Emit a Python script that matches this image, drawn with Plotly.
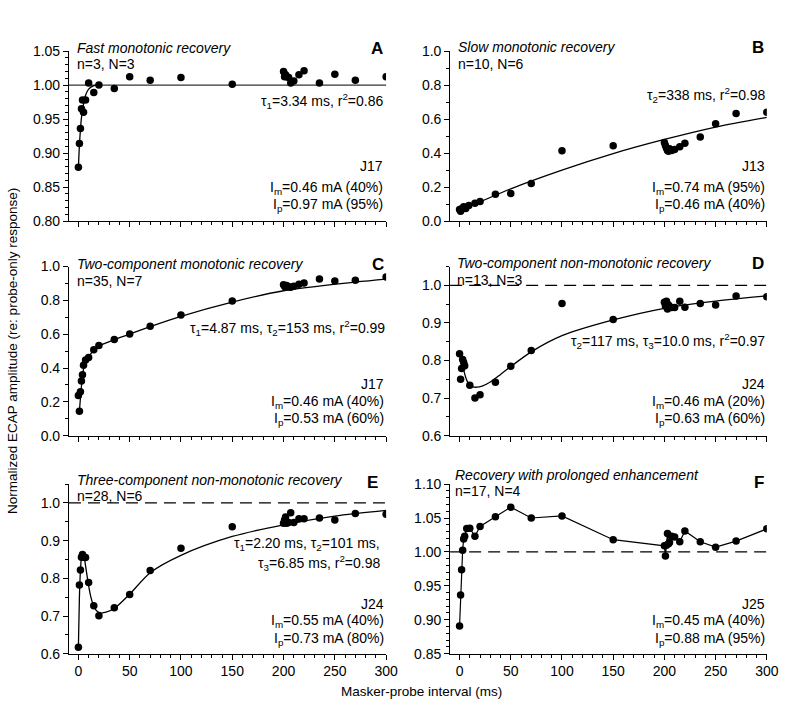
import plotly.graph_objects as go

W, H = 800, 714
FONT = "Liberation Sans, Arial, sans-serif"

# ---------------- data ----------------
# Panel A: fast monotonic recovery
A_x = [0, 1, 2, 3, 4, 5, 7, 10, 15, 20, 35, 50, 70, 100, 150,
       200, 201, 202, 203, 205, 207, 210, 215, 220, 235, 250, 270, 300]
A_y = [0.879, 0.914, 0.936, 0.965, 0.978, 0.960, 0.978, 1.003, 0.989, 1.000, 0.995, 1.012, 1.007, 1.011, 1.001,
       1.020, 1.012, 1.015, 1.012, 1.011, 1.003, 1.006, 1.015, 1.021, 1.003, 1.016, 1.007, 1.012]
A_fit_x = [0, 1, 2, 3, 5, 7, 10, 15, 20]
A_fit_y = [0.877, 0.912, 0.934, 0.952, 0.972, 0.985, 0.994, 0.999, 1.0]

# Panel B: slow monotonic recovery
B_x = [0, 1, 2, 4, 6, 9, 15, 20, 35, 50, 70, 100, 150,
       200, 201, 202, 203, 204, 205, 207, 210, 215, 220, 235, 250, 270, 300]
B_y = [0.068, 0.058, 0.072, 0.085, 0.074, 0.092, 0.105, 0.116, 0.158, 0.163, 0.221, 0.413, 0.443,
       0.462, 0.445, 0.430, 0.415, 0.410, 0.425, 0.415, 0.421, 0.437, 0.458, 0.494, 0.572, 0.633, 0.640]
B_fit_x = [0, 50, 100, 150, 200, 250, 300]
B_fit_y = [0.060, 0.190, 0.300, 0.397, 0.480, 0.553, 0.610]

# Panel C: two-component monotonic recovery
C_x = [0, 1, 2, 3, 4, 5, 7, 10, 15, 20, 35, 50, 70, 100, 150,
       200, 201, 202, 203, 205, 207, 210, 215, 220, 235, 250, 270, 300]
C_y = [0.238, 0.145, 0.260, 0.323, 0.360, 0.416, 0.448, 0.462, 0.508, 0.534, 0.569, 0.602, 0.647, 0.714, 0.797,
       0.892, 0.884, 0.878, 0.888, 0.880, 0.878, 0.884, 0.895, 0.903, 0.927, 0.915, 0.919, 0.938]
C_fit_x = [1, 3, 4.6, 7, 10, 15, 20, 35, 50, 70, 100, 150, 200, 250, 300]
C_fit_y = [0.145, 0.294, 0.381, 0.440, 0.468, 0.505, 0.530, 0.568, 0.600, 0.645, 0.706, 0.790, 0.857, 0.896, 0.926]

# Panel D: two-component non-monotonic recovery
D_x = [0, 1, 2, 3, 4, 5, 10, 15, 20, 35, 50, 70, 100, 150,
       200, 201, 202, 203, 204, 205, 207, 210, 215, 220, 235, 250, 270, 300]
D_y = [0.818, 0.750, 0.779, 0.803, 0.795, 0.786, 0.734, 0.700, 0.709, 0.742, 0.785, 0.827, 0.952, 0.909,
       0.955, 0.945, 0.958, 0.937, 0.948, 0.944, 0.941, 0.941, 0.958, 0.942, 0.952, 0.948, 0.972, 0.970]
D_fit_x = [2, 4, 6, 8, 10, 13, 17, 22, 30, 40, 50, 70, 100, 150, 200, 250, 300]
D_fit_y = [0.800, 0.775, 0.755, 0.742, 0.735, 0.730, 0.729, 0.732, 0.743, 0.763, 0.784, 0.823, 0.866, 0.908,
           0.939, 0.958, 0.972]

# Panel E: three-component non-monotonic recovery
E_x = [0, 1, 2, 3, 4, 5, 7, 10, 15, 20, 35, 50, 70, 100, 150,
       200, 201, 202, 203, 205, 207, 210, 215, 220, 235, 250, 270, 300]
E_y = [0.617, 0.782, 0.822, 0.856, 0.863, 0.856, 0.855, 0.789, 0.727, 0.701, 0.722, 0.757, 0.821, 0.880, 0.937,
       0.946, 0.955, 0.963, 0.946, 0.948, 0.974, 0.948, 0.958, 0.958, 0.960, 0.955, 0.972, 0.970]
E_fit_x = [0, 1, 2, 3, 4, 5, 6, 8, 10, 12, 15, 18, 22, 27, 35, 50, 70, 100, 150, 200, 250, 300]
E_fit_y = [0.617, 0.750, 0.820, 0.855, 0.865, 0.862, 0.850, 0.815, 0.780, 0.752, 0.726, 0.713, 0.708, 0.710,
           0.720, 0.758, 0.815, 0.861, 0.911, 0.942, 0.965, 0.980]

# Panel F: recovery with prolonged enhancement
F_x = [0, 1, 2, 3, 4, 5, 7, 10, 15, 20, 35, 50, 70, 100, 150,
       200, 201, 202, 203, 204, 205, 207, 210, 215, 220, 235, 250, 270, 300]
F_y = [0.891, 0.9365, 0.9736, 1.0024, 1.019, 1.023, 1.0345, 1.035, 1.023, 1.0375, 1.052, 1.066, 1.050, 1.053, 1.018,
       1.009, 0.994, 1.010, 1.027, 1.012, 1.014, 1.023, 1.022, 1.015, 1.031, 1.015, 1.007, 1.016, 1.034]

X_RANGE = [-9.2, 300]
Y_RANGES = {1: [0.80, 1.05], 2: [0.0, 1.0], 3: [0.0, 1.0], 4: [0.6, 1.05], 5: [0.6, 1.05], 6: [0.85, 1.10]}
Y_DTICK = {1: 0.05, 2: 0.2, 3: 0.2, 4: 0.1, 5: 0.1, 6: 0.05}
Y_MINOR = {1: 0.01, 2: 0.1, 3: 0.1, 4: 0.05, 5: 0.05, 6: 0.01}
Y_FMT = {1: ".2f", 2: ".1f", 3: ".1f", 4: ".1f", 5: ".1f", 6: ".2f"}

# ---------------- layout geometry (pixels) ----------------
COLS = [(70, 392), (457, 778.5)]
ROWS = [(44, 218), (264.5, 437.5), (487, 660.5)]

fig = go.Figure()

series = {
    1: (A_x, A_y, A_fit_x, A_fit_y),
    2: (B_x, B_y, B_fit_x, B_fit_y),
    3: (C_x, C_y, C_fit_x, C_fit_y),
    4: (D_x, D_y, D_fit_x, D_fit_y),
    5: (E_x, E_y, E_fit_x, E_fit_y),
    6: (F_x, F_y, None, None),
}

for i in range(1, 7):
    xs, ys, fx, fy = series[i]
    xa = "x" if i == 1 else f"x{i}"
    ya = "y" if i == 1 else f"y{i}"
    if fx is not None:
        fig.add_trace(go.Scatter(x=fx, y=fy, mode="lines", xaxis=xa, yaxis=ya,
                                 line=dict(color="black", width=1.3, shape="spline", smoothing=0.8),
                                 hoverinfo="skip"))
        fig.add_trace(go.Scatter(x=xs, y=ys, mode="markers", xaxis=xa, yaxis=ya,
                                 marker=dict(color="black", size=7.5)))
    else:
        fig.add_trace(go.Scatter(x=xs, y=ys, mode="lines+markers", xaxis=xa, yaxis=ya,
                                 line=dict(color="black", width=1.2),
                                 marker=dict(color="black", size=7.5)))

layout = dict(width=W, height=H, margin=dict(l=0, r=0, t=0, b=0),
              paper_bgcolor="white", plot_bgcolor="white", showlegend=False,
              font=dict(family=FONT, color="black", size=14))

for i in range(1, 7):
    col = (i - 1) % 2
    row = (i - 1) // 2
    x0, x1 = COLS[col]
    y0, y1 = ROWS[row]
    xk = "xaxis" if i == 1 else f"xaxis{i}"
    yk = "yaxis" if i == 1 else f"yaxis{i}"
    layout[xk] = dict(domain=[x0 / W, x1 / W], range=X_RANGE, anchor="y" if i == 1 else f"y{i}",
                      showline=True, linecolor="black", linewidth=1, ticks="outside", ticklen=5,
                      tickcolor="black", tickwidth=1, tick0=0, dtick=50, showgrid=False, zeroline=False,
                      showticklabels=(i >= 5), tickfont=dict(size=14, family=FONT, color="black"),
                      minor=dict(tick0=0, dtick=10, ticks="outside", ticklen=3, tickcolor="black", tickwidth=1,
                                 showgrid=False))
    layout[yk] = dict(domain=[1 - y1 / H, 1 - y0 / H], range=Y_RANGES[i], anchor="x" if i == 1 else f"x{i}",
                      showline=True, linecolor="black", linewidth=1, ticks="outside", ticklen=5,
                      tickcolor="black", tickwidth=1, tick0=0, dtick=Y_DTICK[i], tickformat=Y_FMT[i],
                      showgrid=False, zeroline=False, tickfont=dict(size=14, family=FONT, color="black"),
                      minor=dict(tick0=0, dtick=Y_MINOR[i], ticks="outside", ticklen=3, tickcolor="black",
                                 tickwidth=1, showgrid=False))

shapes = []
for i, dash, color in [(1, "solid", "#333333"), (4, "12px,7px", "black"), (5, "12px,7px", "black"),
                       (6, "12px,7px", "black")]:
    shapes.append(dict(type="line", xref=("x domain" if i == 1 else f"x{i} domain"), x0=0, x1=1,
                       yref=("y" if i == 1 else f"y{i}"), y0=1.0, y1=1.0, layer="below",
                       line=dict(color=color, width=1.2, dash=dash)))
layout["shapes"] = shapes

ANN_SIZE = 14


def ann(text, px, py, anchor="left", size=ANN_SIZE, style=None):
    if style == "i":
        text = f"<i>{text}</i>"
    elif style == "b":
        text = f"<b>{text}</b>"
    return dict(text=text, x=px / W, y=1 - py / H, xref="paper", yref="paper", xanchor=anchor,
                yanchor="middle", showarrow=False, borderpad=0,
                font=dict(size=size, color="black", family=FONT))


annotations = [
    # A
    ann("Fast monotonic recovery", 77, 41, style="i"),
    ann("n=3, N=3", 77, 57),
    ann("A", 390, 41, "right", 17, "b"),
    ann("τ<sub>1</sub>=3.34 ms, r<sup>2</sup>=0.86", 390, 95, "right"),
    ann("J17", 390, 162, "right"),
    ann("I<sub>m</sub>=0.46 mA (40%)", 390, 184, "right"),
    ann("I<sub>p</sub>=0.97 mA (95%)", 390, 202, "right"),
    # B
    ann("Slow monotonic recovery", 463.5, 40, style="i"),
    ann("n=10, N=6", 463.5, 57),
    ann("B", 777, 40, "right", 17, "b"),
    ann("τ<sub>2</sub>=338 ms, r<sup>2</sup>=0.98", 779, 89, "right"),
    ann("J13", 778, 162, "right"),
    ann("I<sub>m</sub>=0.74 mA (95%)", 778, 184, "right"),
    ann("I<sub>p</sub>=0.46 mA (40%)", 778, 202, "right"),
    # C
    ann("Two-component monotonic recovery", 77, 262, style="i"),
    ann("n=35, N=7", 77, 279),
    ann("C", 391, 262.5, "right", 17, "b"),
    ann("τ<sub>1</sub>=4.87 ms, τ<sub>2</sub>=153 ms, r<sup>2</sup>=0.99", 391.5, 327, "right"),
    ann("J17", 391, 385, "right"),
    ann("I<sub>m</sub>=0.46 mA (40%)", 391, 403, "right"),
    ann("I<sub>p</sub>=0.53 mA (60%)", 391, 420, "right"),
    # D
    ann("Two-component non-monotonic recovery", 462.5, 261, style="i"),
    ann("n=13, N=3", 462.5, 278.5),
    ann("D", 777, 261.5, "right", 17, "b"),
    ann("τ<sub>2</sub>=117 ms, τ<sub>3</sub>=10.0 ms, r<sup>2</sup>=0.97", 778, 341, "right"),
    ann("J24", 778, 385, "right"),
    ann("I<sub>m</sub>=0.46 mA (20%)", 778, 403, "right"),
    ann("I<sub>p</sub>=0.63 mA (60%)", 778, 420.5, "right"),
    # E
    ann("Three-component non-monotonic recovery", 77, 482.5, style="i"),
    ann("n=28, N=6", 77, 499.5),
    ann("E", 385, 485, "right", 17, "b"),
    ann("τ<sub>1</sub>=2.20 ms, τ<sub>2</sub>=101 ms,", 387, 548, "right"),
    ann("τ<sub>3</sub>=6.85 ms, r<sup>2</sup>=0.98", 387, 568, "right"),
    ann("J24", 391, 609.5, "right"),
    ann("I<sub>m</sub>=0.55 mA (40%)", 391, 627.5, "right"),
    ann("I<sub>p</sub>=0.73 mA (80%)", 391, 645, "right"),
    # F
    ann("Recovery with prolonged enhancement", 461, 477.5, style="i"),
    ann("n=17, N=4", 461, 494.5),
    ann("F", 777, 485, "right", 17, "b"),
    ann("J25", 778, 609.5, "right"),
    ann("I<sub>m</sub>=0.45 mA (40%)", 778, 627.5, "right"),
    ann("I<sub>p</sub>=0.88 mA (95%)", 778, 645, "right"),
]

# axis titles
annotations.append(dict(text="Masker-probe interval (ms)", x=428 / W, y=1 - 699 / H, xref="paper", yref="paper",
                        xanchor="center", yanchor="middle", showarrow=False,
                        font=dict(size=13.5, color="black", family=FONT)))
annotations.append(dict(text="Normalized ECAP amplitude (re: probe-only response)", x=12 / W, y=1 - 351 / H,
                        xref="paper", yref="paper", xanchor="center", yanchor="middle", showarrow=False,
                        textangle=-90, font=dict(size=13.5, color="black", family=FONT)))
layout["annotations"] = annotations

fig.update_layout(**layout)

fig.write_html("out.html", config={"displayModeBar": False},
               post_script="document.body.style.margin='0';")
